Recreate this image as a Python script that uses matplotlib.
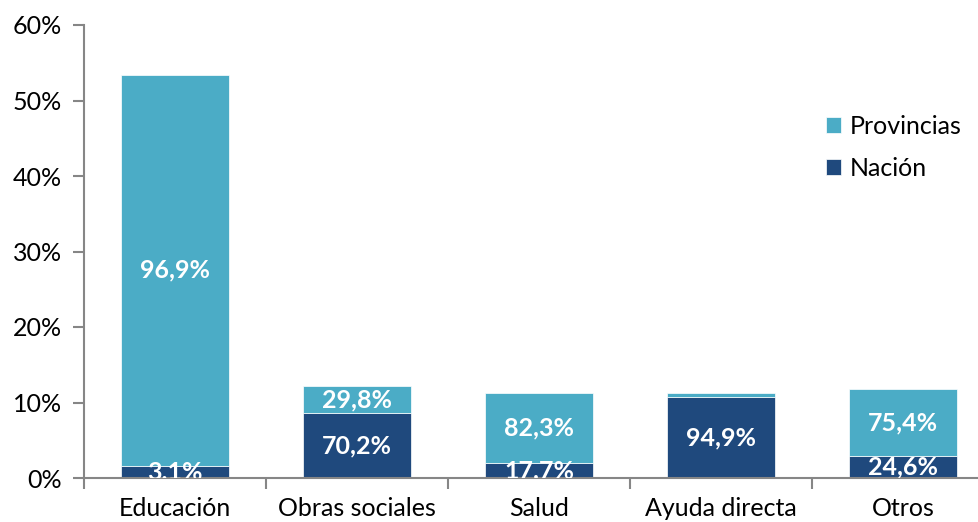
import matplotlib.pyplot as plt
from matplotlib.ticker import FixedLocator, PercentFormatter

# Data
categories = ['Educación', 'Obras sociales', 'Salud', 'Ayuda directa', 'Otros']
totals = [53.4, 12.2, 11.3, 11.3, 11.8]          # % of total spending
nacion_share = [3.1, 70.2, 17.7, 94.9, 24.6]     # % of each bar paid by Nación
nacion_labels = ['3,1%', '70,2%', '17,7%', '94,9%', '24,6%']
provincias_labels = ['96,9%', '29,8%', '82,3%', '', '75,4%']

nacion = [t * s / 100 for t, s in zip(totals, nacion_share)]
provincias = [t - n for t, n in zip(totals, nacion)]

plt.rcParams['font.family'] = ['Lato', 'DejaVu Sans']
axis_grey = '#868686'
c_prov = '#4BACC6'
c_nac = '#1F497D'
fs = 18

fig = plt.figure(figsize=(9.79, 5.22), dpi=100)
ax = fig.add_axes([84 / 979, 1 - 478 / 522, 910 / 979, 453 / 522])

x = range(len(categories))
ax.bar(x, nacion, width=0.59, color=c_nac, label='Nación',
       edgecolor='white', linewidth=0.5)
ax.bar(x, provincias, width=0.59, bottom=nacion, color=c_prov,
       label='Provincias', edgecolor='white', linewidth=0.5)

for i in x:
    ax.text(i, nacion[i] / 2, nacion_labels[i], ha='center', va='center',
            color='white', fontsize=fs, fontweight='bold', clip_on=True)
    if provincias_labels[i]:
        ax.text(i, nacion[i] + provincias[i] / 2, provincias_labels[i],
                ha='center', va='center', color='white', fontsize=fs,
                fontweight='bold')

ax.set_xlim(-0.5, 4.5)
ax.set_ylim(0, 60)
ax.set_yticks(range(0, 61, 10))
ax.yaxis.set_major_formatter(PercentFormatter(decimals=0))
ax.set_xticks(list(x))
ax.set_xticklabels(categories)
ax.xaxis.set_minor_locator(FixedLocator([i - 0.5 for i in range(6)]))
ax.tick_params(axis='x', which='major', length=0, pad=14, labelsize=fs)
ax.tick_params(axis='x', which='minor', length=8, color=axis_grey, width=1.5)
ax.tick_params(axis='y', length=8, color=axis_grey, width=1.5, pad=8,
               labelsize=fs)

for side in ['top', 'right']:
    ax.spines[side].set_visible(False)
for side in ['left', 'bottom']:
    ax.spines[side].set_color(axis_grey)
    ax.spines[side].set_linewidth(1.5)

handles, labels = ax.get_legend_handles_labels()
ax.legend(handles[::-1], labels[::-1], loc='upper left',
          bbox_to_anchor=(816 / 979, 1 - 105 / 522),
          bbox_transform=fig.transFigure, frameon=False, fontsize=fs,
          handlelength=0.6, handleheight=0.6, handletextpad=0.35,
          labelspacing=0.75, borderaxespad=0)

fig.savefig('out.png', dpi=100)
